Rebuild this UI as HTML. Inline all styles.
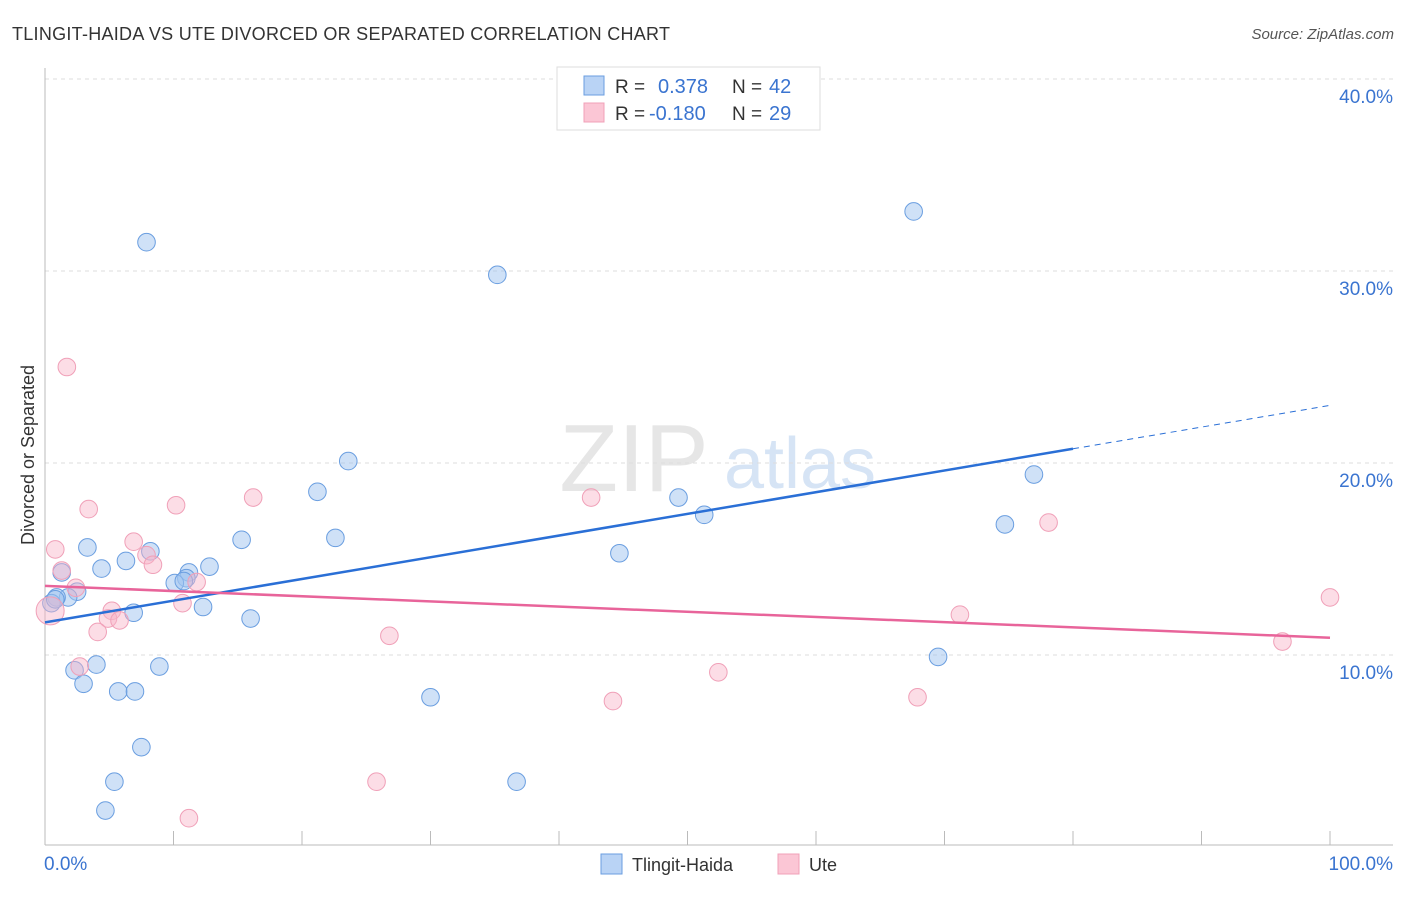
<!DOCTYPE html>
<html><head><meta charset="utf-8"><style>
body{margin:0;background:#fff;font-family:"Liberation Sans",sans-serif;}
svg text{font-family:"Liberation Sans",sans-serif;}
</style></head><body>
<svg id="chart" width="1406" height="892">
<text x="12" y="40" font-size="18" fill="#333" textLength="658">TLINGIT-HAIDA VS UTE DIVORCED OR SEPARATED CORRELATION CHART</text>
<text x="1394" y="39" font-size="15" fill="#555" font-style="italic" text-anchor="end">Source: ZipAtlas.com</text>
<text x="634" y="491" font-size="96" fill="#e6e6e6" font-family="Liberation Serif" text-anchor="middle">ZIP</text>
<text x="800" y="488" font-size="72" fill="#d6e4f5" text-anchor="middle">atlas</text>
<text transform="translate(34,455) rotate(-90)" font-size="18" fill="#333" text-anchor="middle">Divorced or Separated</text>
<g id="grid"></g><g id="ticks"></g><g id="pts"></g><g id="trend"></g>
<g>
<rect x="557" y="67" width="263" height="63" fill="#fff" stroke="#ddd"/>
<rect x="584" y="76" width="20" height="19" fill="#b9d3f5" stroke="#6a9ee0"/>
<rect x="584" y="103" width="20" height="19" fill="#fbc6d5" stroke="#f0a0b8"/>
<text x="615" y="93" font-size="19" fill="#333">R =</text>
<text x="658" y="93" font-size="20" fill="#3a74d0">0.378</text>
<text x="732" y="93" font-size="19" fill="#333">N =</text>
<text x="769" y="93" font-size="20" fill="#3a74d0">42</text>
<text x="615" y="120" font-size="19" fill="#333">R =</text>
<text x="649" y="120" font-size="20" fill="#3a74d0">-0.180</text>
<text x="732" y="120" font-size="19" fill="#333">N =</text>
<text x="769" y="120" font-size="20" fill="#3a74d0">29</text>
</g>
<g>
<rect x="601" y="854" width="21" height="20" fill="#b9d3f5" stroke="#6a9ee0"/>
<text x="632" y="871" font-size="18" fill="#333">Tlingit-Haida</text>
<rect x="778" y="854" width="21" height="20" fill="#fbc6d5" stroke="#f0a0b8"/>
<text x="809" y="871" font-size="18" fill="#333">Ute</text>
</g>
</svg>
<script>
const yTicks=[10,20,30,40];
const blueX=[7.9,35.2,67.6,23.6,21.2,49.3,51.3,76.96,74.7,22.6,15.3,3.3,8.2,6.3,4.4,12.8,11.2,1.3,11.0,10.1,10.8,2.5,1.8,0.9,0.5,12.3,6.9,16.0,44.7,69.5,4.0,2.3,8.9,3.0,5.7,7.0,30.0,7.5,5.4,36.7,4.7,0.8];
const blueY=[31.5,29.8,33.1,20.1,18.5,18.2,17.3,19.4,16.8,16.1,16.0,15.6,15.4,14.9,14.5,14.6,14.3,14.3,14.0,13.75,13.85,13.3,13.0,13.0,12.7,12.5,12.2,11.9,15.3,9.9,9.5,9.2,9.4,8.5,8.1,8.1,7.8,5.2,3.4,3.4,1.9,12.9];
const pinkX=[1.7,3.4,10.2,16.2,42.5,78.1,0.8,6.9,7.9,8.4,1.3,2.4,11.8,10.7,5.2,4.9,5.8,4.1,26.8,71.2,100,96.3,2.7,52.4,44.2,67.9,25.8,11.2,0.4];
const pinkY=[25.0,17.6,17.8,18.2,18.2,16.9,15.5,15.9,15.2,14.7,14.4,13.5,13.8,12.7,12.3,11.9,11.8,11.2,11.0,12.1,13.0,10.7,9.4,9.1,7.6,7.8,3.4,1.5,12.3];
const blueTrend=[11.7,23.0];
const pinkTrend=[13.6,10.9];
const NS='http://www.w3.org/2000/svg';
const X=v=>45+v*12.85, Y=v=>847-v*19.2;
function mk(tag,parent,attrs){const e=document.createElementNS(NS,tag);for(const k in attrs)e.setAttribute(k,attrs[k]);document.getElementById(parent).appendChild(e);return e;}
yTicks.forEach(t=>{
 const l=mk('line','grid',{x1:45,x2:1393,y1:Y(t),y2:Y(t),stroke:'#ddd','stroke-dasharray':'4,4'});
 
 
 const tx=mk('text','grid',{x:1393,y:Y(t)+24,'font-size':19,fill:'#3a74d0','text-anchor':'end'});
 tx.textContent=t.toFixed(1)+'%';
 
 
});
mk('line','ticks',{x1:45,x2:45,y1:68,y2:845,stroke:'#bbb'});
mk('line','ticks',{x1:45,x2:1393,y1:845,y2:845,stroke:'#bbb'});
for(let i=0;i<=10;i++){const t=mk('line','ticks',{x1:X(i*10),x2:X(i*10),y1:831,y2:845,stroke:'#bbb'});
 
 }
const xl0=mk('text','ticks',{x:44,y:870,'font-size':19,fill:'#3a74d0'});xl0.textContent='0.0%';


const xl1=mk('text','ticks',{x:1393,y:870,'font-size':19,fill:'#3a74d0','text-anchor':'end'});xl1.textContent='100.0%';


blueX.forEach((v,i)=>{const c=mk('circle','pts',{cx:X(v),cy:Y(blueY[i]),r:8.8,fill:'rgba(160,196,240,0.5)',stroke:'#6a9ee0','stroke-width':1});
 
 });
pinkX.forEach((v,i)=>{const c=mk('circle','pts',{cx:X(v),cy:Y(pinkY[i]),r:i==pinkX.length-1?14:8.8,fill:'rgba(248,180,200,0.45)',stroke:'#f0a0b8','stroke-width':1});
 
 });
const bAt=x=>blueTrend[0]+(blueTrend[1]-blueTrend[0])*x/100;
const b1=mk('line','trend',{x1:X(0),y1:Y(bAt(0)),x2:X(80),y2:Y(bAt(80)),stroke:'#2a6fd6','stroke-width':2.5});


const b2=mk('line','trend',{x1:X(80),y1:Y(bAt(80)),x2:X(100),y2:Y(bAt(100)),stroke:'#2a6fd6','stroke-width':1,'stroke-dasharray':'6,5'});


const p1=mk('line','trend',{x1:X(0),y1:Y(pinkTrend[0]),x2:X(100),y2:Y(pinkTrend[1]),stroke:'#e8649a','stroke-width':2.5});


</script>
</body></html>
